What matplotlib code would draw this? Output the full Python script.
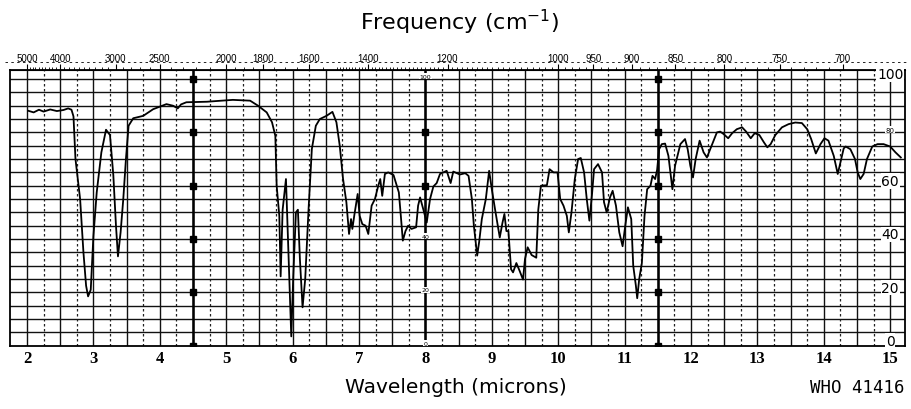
import matplotlib
matplotlib.use('Agg')
import matplotlib.pyplot as plt
import numpy as np
from matplotlib.lines import Line2D

# spectrum: wavelength (microns) and % transmittance
wavelength = [2.02, 2.10, 2.18, 2.25, 2.35, 2.45, 2.55, 2.62, 2.67, 2.70,
              2.73, 2.80, 2.85, 2.89, 2.92, 2.96, 3.00, 3.05, 3.12, 3.19,
              3.25, 3.30, 3.34, 3.37, 3.41, 3.45, 3.49, 3.53, 3.60, 3.75,
              3.90, 4.10, 4.20, 4.27, 4.32, 4.40, 4.71, 5.10, 5.36, 5.48,
              5.61, 5.69, 5.74, 5.76, 5.80, 5.82, 5.85, 5.90, 5.94, 5.98,
              6.01, 6.05, 6.08, 6.11, 6.15, 6.19, 6.24, 6.29, 6.35, 6.41,
              6.51, 6.60, 6.66, 6.71, 6.76, 6.81, 6.85, 6.88, 6.90, 6.93,
              6.98, 7.01, 7.05, 7.10, 7.14, 7.19, 7.24, 7.29, 7.32, 7.35,
              7.39, 7.44, 7.52, 7.60, 7.63, 7.66, 7.70, 7.74, 7.79, 7.86,
              7.89, 7.92, 7.97, 8.02, 8.07, 8.12, 8.17, 8.22, 8.32, 8.38,
              8.42, 8.52, 8.60, 8.65, 8.70, 8.73, 8.78, 8.81, 8.85, 8.91,
              8.96, 9.00, 9.05, 9.12, 9.16, 9.19, 9.22, 9.25, 9.29, 9.32,
              9.37, 9.42, 9.47, 9.50, 9.54, 9.60, 9.67, 9.70, 9.74, 9.83,
              9.87, 9.93, 9.99, 10.03, 10.08, 10.13, 10.16, 10.20, 10.25, 10.30,
              10.34, 10.39, 10.43, 10.47, 10.51, 10.54, 10.60, 10.66, 10.69, 10.73,
              10.78, 10.82, 10.87, 10.92, 10.97, 11.01, 11.05, 11.10, 11.13, 11.17,
              11.19, 11.22, 11.26, 11.30, 11.34, 11.39, 11.42, 11.46, 11.49, 11.52,
              11.56, 11.61, 11.66, 11.72, 11.76, 11.84, 11.91, 11.95, 11.99, 12.03,
              12.07, 12.13, 12.19, 12.24, 12.32, 12.39, 12.44, 12.49, 12.56, 12.62,
              12.69, 12.77, 12.83, 12.90, 12.96, 13.03, 13.10, 13.15, 13.20, 13.27,
              13.37, 13.47, 13.57, 13.67, 13.75, 13.81, 13.88, 13.95, 14.01, 14.07,
              14.15, 14.21, 14.25, 14.30, 14.33, 14.40, 14.47, 14.51, 14.55, 14.60,
              14.65, 14.73, 14.81, 14.90, 15.00, 15.08, 15.16]
transmittance = [88.1, 87.5, 88.5, 87.8, 88.6, 88.0, 88.4, 89.0, 88.5, 86.0,
                 70.0, 55.0, 35.0, 22.5, 18.5, 21.0, 41.0, 57.5, 72.5, 81.0,
                 79.0, 64.0, 45.0, 33.5, 42.6, 55.0, 70.0, 82.5, 85.3, 86.2,
                 88.7, 90.6, 90.0, 89.0, 90.5, 91.3, 91.5, 92.2, 91.9, 90.0,
                 87.5, 83.8, 78.7, 60.0, 48.7, 26.0, 51.0, 62.5, 32.5, 3.5,
                 26.0, 50.0, 51.0, 32.5, 14.4, 25.0, 51.0, 73.8, 82.5, 85.0,
                 86.2, 87.7, 83.8, 75.0, 62.5, 53.8, 41.9, 47.5, 43.8, 49.0,
                 56.9, 48.7, 45.6, 45.0, 41.9, 52.5, 55.0, 60.0, 62.5, 56.2,
                 64.4, 65.0, 64.0, 57.5, 48.7, 39.4, 43.0, 45.0, 43.8, 44.4,
                 52.5, 55.6, 51.0, 46.2, 55.0, 59.7, 61.0, 64.4, 65.6, 61.0,
                 65.3, 64.2, 64.7, 63.7, 55.0, 45.0, 33.8, 39.0, 47.5, 55.0,
                 65.6, 58.7, 51.0, 40.6, 46.0, 49.4, 43.0, 43.0, 28.7, 27.5,
                 31.0, 28.0, 24.8, 32.5, 36.9, 34.0, 33.0, 51.0, 60.0, 60.2,
                 66.2, 65.0, 65.0, 55.0, 52.5, 48.7, 42.5, 50.0, 62.5, 70.0,
                 70.4, 65.0, 55.0, 46.9, 57.0, 66.2, 68.1, 65.0, 53.8, 50.0,
                 55.6, 58.1, 52.5, 42.5, 37.3, 45.0, 51.9, 47.5, 30.0, 22.5,
                 17.8, 25.0, 31.0, 48.7, 58.7, 60.0, 63.7, 62.5, 66.0, 73.7,
                 75.6, 75.8, 71.2, 58.7, 67.5, 75.6, 77.5, 73.7, 67.5, 63.1,
                 70.0, 76.9, 72.5, 70.6, 75.6, 80.0, 80.3, 79.4, 77.8, 79.7,
                 81.2, 81.9, 80.3, 77.8, 79.7, 79.0, 76.2, 74.4, 75.6, 79.0,
                 81.9, 83.1, 83.7, 83.5, 81.2, 77.5, 72.1, 75.6, 77.8, 76.9,
                 71.2, 64.4, 68.7, 74.0, 74.7, 73.7, 70.0, 65.0, 62.5, 64.4,
                 70.0, 74.7, 75.6, 75.6, 74.7, 72.5, 70.6]

wl_ticks = list(range(2, 16))
freq_ticks = [5000, 4000, 3000, 2500, 2000, 1800, 1600, 1400, 1200,
              1000, 950, 900, 850, 800, 750, 700]
pct_labels = [100, 60, 40, 20, 0]
marker_pcts = [0, 20, 40, 60, 80, 100]

fig = plt.figure(figsize=(9.12, 4.10), dpi=100)
ax = fig.add_axes([10 / 912, 1 - 346.7 / 410, 895 / 912, 275.7 / 410])
ax.set_xlim(1.744, 15.223)
ax.set_ylim(0, 103.4)

# chart paper grid
for x in np.arange(2.0, 15.01, 0.5):
    ax.axvline(x, color='#111111', lw=1.0, zorder=1)
for x in np.arange(2.25, 15.0, 0.5):
    ax.axvline(x, color='#222222', lw=0.9, ls=(0, (2, 2)), zorder=1)
for y in np.arange(5, 101, 5):
    ax.axhline(y, color='#111111', lw=1.0, zorder=1)
for x in [4.5, 8.0, 11.5]:
    ax.axvline(x, color='black', lw=1.8, zorder=2)

# percent markers on the heavy lines
for x in [4.5, 11.5]:
    ax.plot([x] * len(marker_pcts), marker_pcts, 's', color='black', ms=4.5, zorder=3)
ax.plot([8.0, 8.0], [80, 60], 's', color='black', ms=4, zorder=3)
for p in [100, 40, 20, 0]:
    ax.text(8.0, p + 1, str(p), fontsize=4.5, ha='center', va='center',
            bbox=dict(facecolor='white', edgecolor='none', pad=0.3), zorder=3)

# spectrum trace
ax.plot(wavelength, transmittance, color='black', lw=1.3, zorder=4)

# percent scale on the right
for p in pct_labels:
    ax.text(15.0, p + 1.8, str(p), fontsize=10, ha='center', va='center',
            family='DejaVu Sans',
            bbox=dict(facecolor='white', edgecolor='none', pad=0.5), zorder=5)
ax.text(15.0, 81, '80', fontsize=5, ha='center', va='center', zorder=5,
        bbox=dict(facecolor='white', edgecolor='none', pad=0.3))

# bottom wavelength scale
ax.set_xticks(wl_ticks)
ax.set_xticklabels([str(v) for v in wl_ticks], family='Liberation Serif',
                   fontweight='bold', fontsize=12)
ax.tick_params(axis='x', length=0, pad=3)
ax.set_yticks([])
for s in ax.spines.values():
    s.set_linewidth(1.3)
    s.set_color('black')

# top frequency scale
secax = ax.secondary_xaxis('top', functions=(lambda x: 1e4 / x, lambda x: 1e4 / x))
secax.set_xticks(freq_ticks)
secax.set_xticklabels([str(v) for v in freq_ticks], fontsize=7,
                      family=['Liberation Sans Narrow', 'Liberation Sans'])
minor = list(range(5000, 2000, -100)) + list(range(2000, 1500, -50)) + list(range(1500, 690, -10))
secax.set_xticks(minor, minor=True)
secax.tick_params(axis='x', which='major', length=4, width=0.8, pad=1)
secax.tick_params(axis='x', which='minor', length=2.5, width=0.6)
secax.spines['top'].set_linewidth(0.8)

fig.add_artist(Line2D([0.005, 0.995], [1 - 63 / 410, 1 - 63 / 410],
                      color='black', lw=0.6, ls=(0, (3, 4))))

fig.text(460 / 912, 1 - 22 / 410, 'Frequency (cm$^{-1}$)', ha='center', va='center',
         fontsize=16, family='DejaVu Sans')
fig.text(456 / 912, 1 - 388 / 410, 'Wavelength (microns)', ha='center', va='center',
         fontsize=14.5, family='DejaVu Sans')
fig.text(905 / 912, 1 - 388 / 410, 'WHO 41416', ha='right', va='center',
         fontsize=12.5, family='DejaVu Sans Mono')

fig.savefig('out.png', dpi=100)
